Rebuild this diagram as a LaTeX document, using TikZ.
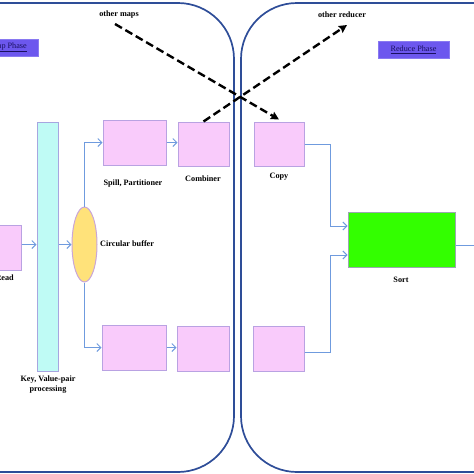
\documentclass[tikz,border=0pt]{standalone}
\usepackage{fontspec}
\setmainfont{Liberation Serif}
\usetikzlibrary{arrows.meta,shapes.geometric}
\definecolor{panel}{HTML}{2E4D98}
\definecolor{pinkfill}{HTML}{F9CBFB}
\definecolor{pinkedge}{HTML}{B9A2E2}
\definecolor{conn}{HTML}{6F9BDE}
\definecolor{cyanfill}{HTML}{BFFBF5}
\definecolor{cyanedge}{HTML}{A7A6E0}
\definecolor{yellowfill}{HTML}{FFE27A}
\definecolor{yellowedge}{HTML}{C9A6D8}
\definecolor{greenfill}{HTML}{33FF00}
\definecolor{greenedge}{HTML}{9AA8B0}
\definecolor{phasefill}{HTML}{6C57EE}
\definecolor{phasetext}{HTML}{1A1060}
\begin{document}
\begin{tikzpicture}[x=1pt,y=-1pt,
  pinkbox/.style={draw=pinkedge,fill=pinkfill,line width=1pt,inner sep=0pt},
  flow/.style={draw=conn,line width=1pt,-{Straight Barb[length=4pt,width=8pt]}},
  dasharrow/.style={draw=black,line width=2.4pt,dash pattern=on 8pt off 4pt,-{Stealth[length=8pt,width=8pt,inset=1pt]}},
  lbl/.style={font=\fontsize{8.2}{10}\selectfont\bfseries,text=black,inner sep=0pt,align=center},
  phase/.style={draw=phasefill!80!white,fill=phasefill,line width=0.6pt,inner sep=0pt,font=\fontsize{8.2}{9}\selectfont,text=phasetext},
  panelline/.style={draw=panel,line width=1.7pt,rounded corners=56pt}
]
\useasboundingbox (0,0) rectangle (474,474);
\clip (0,0) rectangle (474,474);
% panels
\draw[panelline] (-120,3) rectangle (234,472);
\draw[panelline] (241,3) rectangle (600,472);
% phase labels
\node[phase,minimum width=70,minimum height=17] (mapphase) at (3,47.5) {};
\node[font=\fontsize{8.2}{9}\selectfont,text=phasetext,anchor=east,inner sep=0pt] (mapphasetxt) at (27,47.5) {\underline{Map Phase}};
\node[phase,minimum width=71,minimum height=17] (redphase) at (413.5,49.5) {\underline{Reduce Phase}};
% map side nodes
\node[pinkbox,minimum width=51,minimum height=45] (read) at (-4.5,247.5) {};
\node[draw=cyanedge,fill=cyanfill,line width=1pt,minimum width=21,minimum height=249,inner sep=0pt] (kv) at (47.5,246.5) {};
\node[ellipse,draw=yellowedge,fill=yellowfill,line width=1pt,minimum width=25,minimum height=75,inner sep=0pt] (buf) at (84.5,244.5) {};
\node[pinkbox,minimum width=63,minimum height=45] (spill) at (134.5,142.5) {};
\node[pinkbox,minimum width=51,minimum height=44] (comb) at (203.5,144) {};
\node[pinkbox,minimum width=64,minimum height=45] (spilltwo) at (134,347.5) {};
\node[pinkbox,minimum width=52,minimum height=45] (combtwo) at (203,348.5) {};
% reduce side nodes
\node[pinkbox,minimum width=50,minimum height=44] (copy) at (279,144) {};
\node[pinkbox,minimum width=51,minimum height=45] (copytwo) at (278.5,348.5) {};
\node[draw=greenedge,fill=greenfill,line width=1pt,minimum width=107,minimum height=55,inner sep=0pt] (sort) at (401.5,239.5) {};
% labels
\node[lbl,anchor=east] (readlbl) at (14,278) {Read};
\node[lbl] (kvlbl) at (48,385) {Key, Value-pair\\processing};
\node[lbl,anchor=west] (buflbl) at (100,244) {Circular buffer};
\node[lbl] (spilllbl) at (133,184) {Spill, Partitioner};
\node[lbl] (comblbl) at (203,178.5) {Combiner};
\node[lbl] (copylbl) at (279,177) {Copy};
\node[lbl] (sortlbl) at (401,280) {Sort};
\node[lbl] (othermaps) at (119,14.5) {other maps};
\node[lbl] (otherred) at (342,15) {other reducer};
% connectors
\draw[flow] (read.east |- buf.center) -- (kv.west |- buf.center);
\draw[flow] (kv.east |- buf.center) -- (buf.west);
\draw[flow] (buf.north) |- (spill.west);
\draw[flow] (buf.south) |- (spilltwo.west);
\draw[flow] (spill.east) -- (spill.east -| comb.west);
\draw[flow] (spilltwo.east) -- (spilltwo.east -| combtwo.west);
\draw[flow] (copy.east) -- ++(26,0) |- ([yshift=13.5pt]sort.west);
\draw[flow] (copytwo.east |- 0,352) -- (330,352) |- ([yshift=-15.5pt]sort.west);
\coordinate (out) at (479,245);
\draw[flow] (sort.east |- out) -- (out);
% dashed shuffle lines
\coordinate (om) at (115,24);
\coordinate (orr) at (347,25);
\draw[dasharrow] (om) -- ([yshift=2pt]copy.north);
\draw[dasharrow] (comb.north) -- (orr);
\end{tikzpicture}
\end{document}
